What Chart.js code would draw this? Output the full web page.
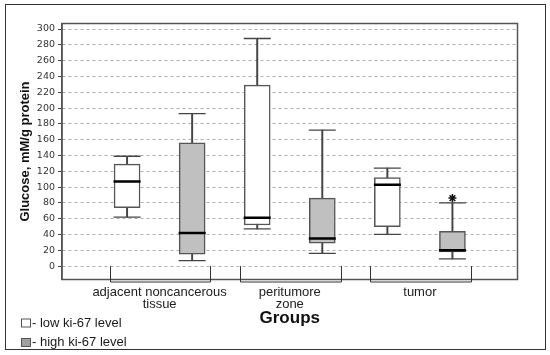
<!DOCTYPE html>
<html lang="en">
<head>
<meta charset="UTF-8" />
<title>Glucose by ki-67 level</title>
<script src="https://cdn.jsdelivr.net/npm/chart.js"></script>
<style>
  body { margin: 0; background: #fff; }
  #wrap { position: relative; width: 550px; height: 355px; }
  #frame { position: absolute; left: 5px; top: 4px; width: 539px; height: 344px; border: 1px solid #333; pointer-events: none; }
</style>
</head>
<body>
<div id="wrap">
  <canvas id="glucoseChart" width="550" height="355"></canvas>
  <div id="frame"></div>
</div>
<script>
const groups = [["adjacent noncancerous", "tissue"], ["peritumore", "zone"], ["tumor"]];
const seriesNames = ["- low ki-67 level", "- high ki-67 level"];
const yTicks = [0, 20, 40, 60, 80, 100, 120, 140, 160, 180, 200, 220, 240, 260, 280, 300];

// low ki-67 level
const lowMin = [62, 47, 40];
const lowQ1 = [74, 52, 50];
const lowMedian = [107, 61, 103];
const lowQ3 = [129, 229, 112];
const lowMax = [139, 288, 124];

// high ki-67 level
const highMin = [7, 16, 9];
const highQ1 = [15, 29, 18];
const highMedian = [42, 35, 20];
const highQ3 = [156, 86, 44];
const highMax = [193, 172, 80];
const highOutliers = [[], [], [86]];

// two boxes per group: low at slot 1, high at slot 2
const rangeData = (a, b, slot) => a.map((v, i) => ({ x: 2 * i + slot, y: [v, b[i]] }));
const pointData = (vals, slot) => vals.map((v, i) => ({ x: 2 * i + slot, y: v }));

const outlierPoints = [];
highOutliers.forEach((list, i) => list.forEach(v => outlierPoints.push({ x: 2 * i + 2, y: v })));

const markStyle = { type: "line", showLine: false, pointStyle: "line", pointRadius: 13.5, pointHoverRadius: 13.5 };

const plotFrame = {
  id: "plotFrame",
  afterDraw(chart) {
    const { ctx, chartArea: a, scales: { x, y } } = chart;
    ctx.save();
    ctx.strokeStyle = "#555";
    ctx.lineWidth = 1.5;
    ctx.strokeRect(a.left, a.top, a.right - a.left, a.bottom - a.top);

    // group brackets under the boxes
    ctx.strokeStyle = "#333";
    ctx.lineWidth = 1;
    const yTop = y.getPixelForValue(0);
    const yBot = a.bottom + 2.5;
    groups.forEach((g, i) => {
      const x1 = Math.round(x.getPixelForValue(2 * i + 0.73)) + 0.5;
      const x2 = Math.round(x.getPixelForValue(2 * i + 2.28)) + 0.5;
      ctx.beginPath();
      ctx.moveTo(x1, yTop);
      ctx.lineTo(x1, yBot);
      ctx.lineTo(x2, yBot);
      ctx.lineTo(x2, yTop);
      ctx.stroke();
    });

    // legend, bottom left
    const fills = ["#ffffff", "#a0a0a0"];
    ctx.font = "13px 'Liberation Sans', Arial, sans-serif";
    ctx.textBaseline = "middle";
    seriesNames.forEach((name, i) => {
      const cy = chart.height - 32 + i * 19.5;
      ctx.fillStyle = fills[i];
      ctx.fillRect(21.5, cy - 4, 9, 8);
      ctx.strokeStyle = "#555";
      ctx.strokeRect(21.5, cy - 4, 9, 8);
      ctx.fillStyle = "#1a1a1a";
      ctx.fillText(name, 32, cy);
    });
    ctx.restore();
  }
};

new Chart(document.getElementById("glucoseChart"), {
  type: "bar",
  data: {
    datasets: [
      { label: "low whiskers", data: rangeData(lowMin, lowMax, 1), backgroundColor: "#444", barThickness: 1.3, grouped: false, order: 3 },
      { label: "high whiskers", data: rangeData(highMin, highMax, 2), backgroundColor: "#444", barThickness: 1.3, grouped: false, order: 3 },
      { label: seriesNames[0], data: rangeData(lowQ1, lowQ3, 1), backgroundColor: "#ffffff", borderColor: "#555", borderWidth: 1.5, borderSkipped: false, barThickness: 26, grouped: false, order: 2 },
      { label: seriesNames[1], data: rangeData(highQ1, highQ3, 2), backgroundColor: "#c0c0c0", borderColor: "#555", borderWidth: 1.5, borderSkipped: false, barThickness: 26, grouped: false, order: 2 },
      { ...markStyle, label: "caps", data: [...pointData(lowMin, 1), ...pointData(lowMax, 1), ...pointData(highMin, 2), ...pointData(highMax, 2)], pointBorderColor: "#444", pointBorderWidth: 1.3, order: 1 },
      { ...markStyle, label: "medians", data: [...pointData(lowMedian, 1), ...pointData(highMedian, 2)], pointBorderColor: "#000", pointBorderWidth: 2.5, order: 0 },
      { type: "line", showLine: false, label: "outliers", data: outlierPoints, pointStyle: "star", pointRadius: 4, pointBorderColor: "#111", pointBorderWidth: 1.5, order: 0 }
    ]
  },
  options: {
    responsive: false,
    animation: false,
    events: [],
    layout: { padding: { left: 12, top: 23.5, right: 32.5, bottom: 28.5 } },
    plugins: { legend: { display: false }, tooltip: { enabled: false } },
    scales: {
      x: {
        type: "linear",
        min: 0,
        max: 7,
        offset: false,
        afterBuildTicks: s => { s.ticks = groups.map((g, i) => ({ value: 2 * i + 1.5 })); },
        afterFit: s => { s.height = 47; },
        grid: { display: false, drawTicks: false, offset: false },
        border: { display: false },
        ticks: {
          autoSkip: false,
          maxRotation: 0,
          padding: 7,
          color: "#222",
          font: { family: "'Liberation Sans', Arial, sans-serif", size: 13, lineHeight: 0.9 },
          callback: (v, i) => groups[i]
        },
        title: {
          display: true,
          text: "Groups",
          color: "#111",
          padding: 0,
          font: { family: "'Liberation Sans', Arial, sans-serif", size: 17, weight: "bold", lineHeight: 1 }
        }
      },
      y: {
        min: -17,
        max: 307,
        afterBuildTicks: s => { s.ticks = yTicks.map(v => ({ value: v })); },
        afterFit: s => { s.width = 50; },
        grid: { color: "#b0b0b0", lineWidth: 1, tickLength: 4, tickColor: "#444", tickWidth: 1 },
        border: { display: true, color: "#555", width: 1.5, dash: [3, 3] },
        ticks: {
          padding: 3,
          color: "#333",
          font: { family: "'DejaVu Sans', Verdana, sans-serif", size: 9.5 }
        },
        title: {
          display: true,
          text: "Glucose, mM/g protein",
          color: "#111",
          padding: { top: 7, bottom: 0 },
          font: { family: "'Liberation Sans', Arial, sans-serif", size: 13, weight: "bold", lineHeight: 1 }
        }
      }
    }
  },
  plugins: [plotFrame]
});
</script>
</body>
</html>
